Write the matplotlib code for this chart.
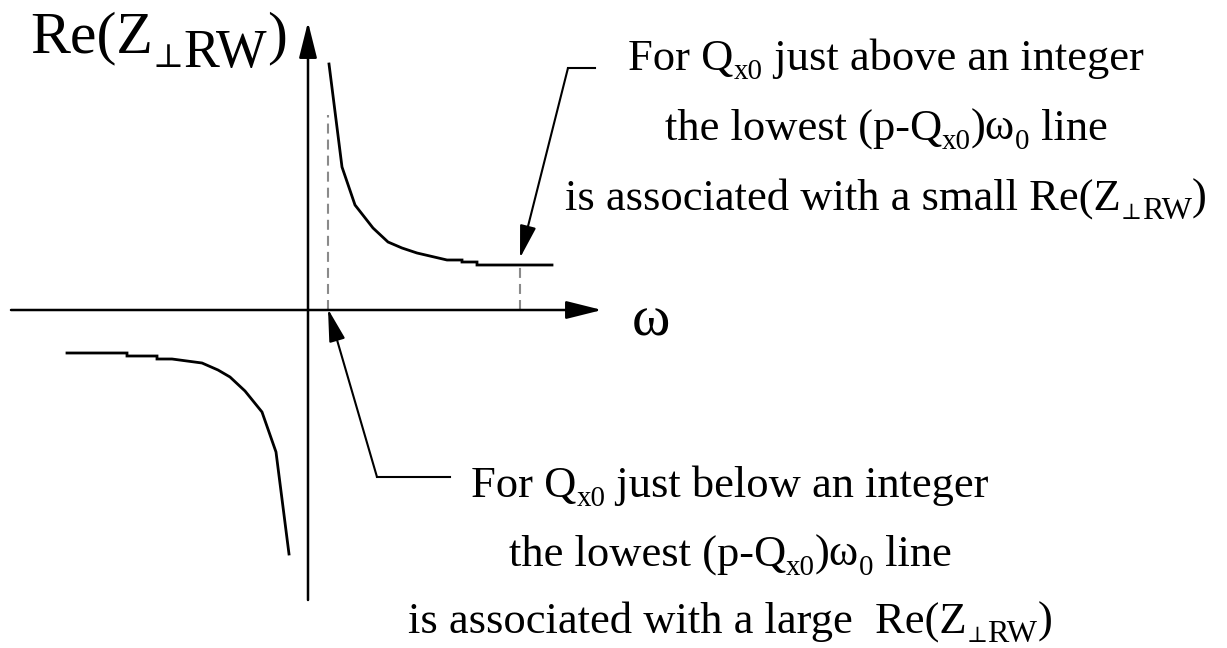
import matplotlib.pyplot as plt

# 字体：Times 风格
FONT = ['Liberation Serif', 'DejaVu Serif']
plt.rcParams['font.family'] = FONT

# 曲线数据（原点在坐标轴交点）
omega_hi = [21, 34, 47, 65, 80, 94, 109, 139, 154, 154, 169, 169, 244]
rez_hi = [246, 143, 105, 82, 68, 62, 57, 50, 50, 48, 48, 45, 45]
omega_lo = [-241, -181, -181, -151, -151, -136, -121, -106, -90, -78, -63, -46, -32, -19]
rez_lo = [-43, -43, -46, -46, -49, -49, -51, -53, -60, -67, -81, -102, -142, -244]

# 谐波线位置（虚线）
line_omega = [20, 212]
line_top = [195, 45]

W, H = 1227, 648
fig = plt.figure(figsize=(W / 100, H / 100), dpi=100)
ax = fig.add_axes([0, 0, 1, 1])
ax.set_xlim(-308, W - 308)
ax.set_ylim(310 - H, 310)
ax.axis('off')
renderer = fig.canvas.get_renderer()


def text_width(s, fs):
    t1 = ax.text(0, 0, '|' + s + '|', fontsize=fs, family=FONT)
    t2 = ax.text(0, 0, '||', fontsize=fs, family=FONT)
    w = t1.get_window_extent(renderer).width - t2.get_window_extent(renderer).width
    t1.remove()
    t2.remove()
    return w


def rich(x, y, parts, fs, ha='center'):
    # parts: (文字, 字号比例, 下移量/em)
    em = fs * 100 / 72
    widths = [text_width(s, fs * sc) for s, sc, dr in parts]
    x0 = x - sum(widths) / 2 if ha == 'center' else x
    for (s, sc, dr), w in zip(parts, widths):
        ax.text(x0, y - dr * em, s, fontsize=fs * sc, family=FONT,
                ha='left', va='baseline')
        x0 += w


# 坐标轴
axis_arrow = dict(arrowstyle='-|>,head_length=2.2,head_width=0.55', mutation_scale=10,
                  lw=1.8, color='k', shrinkA=0, shrinkB=0)
ax.annotate('', xy=(294, 0), xytext=(-297, 0), arrowprops=axis_arrow)
ax.annotate('', xy=(0, 288), xytext=(0, -290), arrowprops=axis_arrow)

# 虚线
for xo, yt in zip(line_omega, line_top):
    ax.plot([xo, xo], [0, yt], color='#8a8a8a', lw=1.5, ls=(0, (4.8, 2.9)), zorder=1)

# 阻抗曲线
ax.plot(omega_hi, rez_hi, color='k', lw=2.0, solid_joinstyle='miter')
ax.plot(omega_lo, rez_lo, color='k', lw=2.0, solid_joinstyle='miter')

# 标注箭头
note_arrow = dict(arrowstyle='-|>,head_length=2.0,head_width=0.5', mutation_scale=10,
                  lw=1.5, color='k', shrinkA=0, shrinkB=0)
ax.plot([287, 260], [242, 242], color='k', lw=1.5)
ax.annotate('', xy=(212, 52), xytext=(260, 242), arrowprops=note_arrow)
ax.plot([142, 69], [-167, -167], color='k', lw=1.5)
ax.annotate('', xy=(20, 1), xytext=(69, -167), arrowprops=note_arrow)

# 轴标签
rich(-278, 258, [('Re(Z', 1, 0), ('⊥', 0.55, 0.25), ('RW', 0.9, 0.25), (')', 1, 0)], 43, ha='left')
ax.text(324, -25, 'ω', fontsize=42, family=FONT, ha='left', va='baseline')

# 上方说明
fs = 32
sub = 0.65
rich(578, 240, [('For Q', 1, 0), ('x0', sub, 0.2), (' just above an integer', 1, 0)], fs)
rich(578, 170, [('the lowest (p-Q', 1, 0), ('x0', sub, 0.2), (')ω', 1, 0), ('0', sub, 0.2),
                (' line', 1, 0)], fs)
rich(578, 100, [('is associated with a small Re(Z', 1, 0), ('⊥', 0.5, 0.2), ('RW', 0.72, 0.2),
                (')', 1, 0)], fs)

# 下方说明
rich(422, -187, [('For Q', 1, 0), ('x0', sub, 0.2), (' just below an integer', 1, 0)], fs)
rich(422, -256, [('the lowest (p-Q', 1, 0), ('x0', sub, 0.2), (')ω', 1, 0), ('0', sub, 0.2),
                 (' line', 1, 0)], fs)
rich(422, -323, [('is associated with a large  Re(Z', 1, 0), ('⊥', 0.5, 0.2), ('RW', 0.72, 0.2),
                 (')', 1, 0)], fs)

plt.savefig('out.png', dpi=100)
